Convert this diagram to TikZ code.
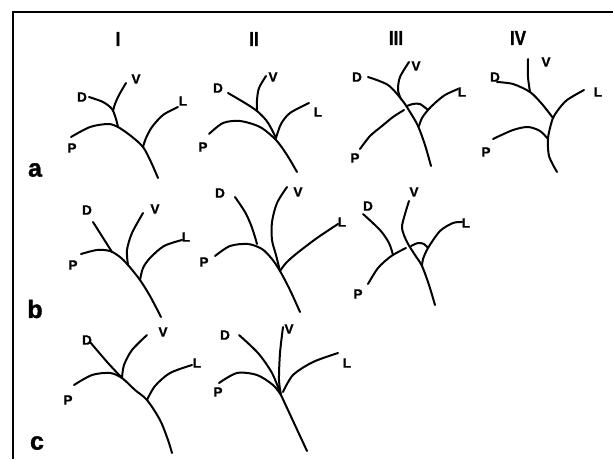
\documentclass[tikz,border=0pt]{standalone}
\usepackage{fontspec}
\newfontfamily\hv[BoldFeatures={FakeBold=1.3}]{Liberation Sans}
\begin{document}
\begin{tikzpicture}[x=1pt,y=-1pt,
  br/.style={line width=2pt, line cap=round, line join=round},
  frm/.style={line width=1.7pt},
  lab/.style={font=\hv\bfseries\fontsize{13.5}{13.5}\selectfont, inner sep=0pt},
  col/.style={font=\hv\bfseries\fontsize{20}{20}\selectfont, inner sep=0pt, xscale=0.85},
  row/.style={font=\hv\bfseries\fontsize{25}{25}\selectfont, inner sep=0pt}]
\useasboundingbox (0,0) rectangle (613,459);
% frame
\coordinate (ftl) at (13,12);
\coordinate (ftr) at (613,12);
\coordinate (fbl) at (13,459);
\draw[frm] (ftr) -- (ftl) -- (fbl);
% column and row labels
\node[col] (cI) at (118,39) {I};
\node[col] (cII) at (254,39) {II};
\node[col] (cIII) at (396,38) {III};
\node[col] (cIV) at (518,38) {IV};
\node[row] (ra) at (35,170) {a};
\node[row] (rb) at (35,309) {b};
\node[row] (rc) at (37,443) {c};

% ---------- Ia ----------
\node[lab] (IaD) at (82,97) {D};
\node[lab] (IaV) at (136,79) {V};
\node[lab] (IaL) at (183,101) {L};
\node[lab] (IaP) at (72,148) {P};
\draw[br] plot[smooth] coordinates {(71,137) (90,127) (108,124) (118,127) (131,136) (143,147) (151,162) (158,178)};
\draw[br] plot[smooth] coordinates {(89,97) (103,102) (112,109) (116,119) (118,127)};
\draw[br] plot[smooth] coordinates {(126,83) (119,95) (115,104) (113,111)};
\draw[br] plot[smooth] coordinates {(178,107) (163,115) (152,127) (146,138) (143,147)};

% ---------- IIa ----------
\node[lab] (IIaD) at (218,88) {D};
\node[lab] (IIaV) at (273,77) {V};
\node[lab] (IIaL) at (318,112) {L};
\node[lab] (IIaP) at (203,147) {P};
\draw[br] plot[smooth] coordinates {(209,134) (223,123) (240,121) (260,127) (276,140) (287,155) (297,172)};
\draw[br] plot[smooth] coordinates {(228,93) (245,103) (257,111) (266,120) (271,128) (276,138)};
\draw[br] plot[smooth] coordinates {(266,76) (259,88) (257,100) (257,111)};
\draw[br] plot[smooth] coordinates {(309,103) (290,113) (281,124) (276,138)};

% ---------- IIIa ----------
\node[lab] (IIIaD) at (357,77) {D};
\node[lab] (IIIaV) at (416,66) {V};
\node[lab] (IIIaL) at (462,92) {L};
\node[lab] (IIIaP) at (355,158) {P};
\draw[br] plot[smooth] coordinates {(368,77) (388,85) (402,100) (410,112) (418,126) (425,145) (431,166)};
\draw[br] plot[smooth] coordinates {(409,62) (400,77) (398,90) (401,99)};
\draw[br] plot[smooth] coordinates {(360,149) (370,136) (382,126) (393,117) (404,110)};
\draw[br] plot[smooth] coordinates {(407,106) (413,104) (420,104) (428,110)};
\draw[br] plot[smooth] coordinates {(458,89) (445,95) (435,103) (428,110) (422,118) (419,126)};

% ---------- IVa ----------
\node[lab] (IVaD) at (495,77) {D};
\node[lab] (IVaV) at (546,62) {V};
\node[lab] (IVaL) at (598,92) {L};
\node[lab] (IVaP) at (486,152) {P};
\draw[br] plot[smooth] coordinates {(497,82) (513,84) (530,92) (542,104) (553,118)};
\draw[br] plot[smooth] coordinates {(528,59) (528,77) (530,92)};
\draw[br] plot[smooth] coordinates {(584,90) (567,100) (558,110) (553,118) (550,128) (548,139) (549,156) (557,172)};
\draw[br] plot[smooth] coordinates {(493,139) (513,130) (528,127) (540,131) (548,139)};

% ---------- Ib ----------
\node[lab] (IbD) at (87,210) {D};
\node[lab] (IbV) at (155,209) {V};
\node[lab] (IbL) at (186,237) {L};
\node[lab] (IbP) at (73,265) {P};
\draw[br] (93,222) -- (112,252);
\draw[br] plot[smooth] coordinates {(81,254) (97,250) (110,251) (120,257) (128,265) (140,280) (150,296) (161,317)};
\draw[br] plot[smooth] coordinates {(143,213) (132,233) (127,250) (128,265)};
\draw[br] plot[smooth] coordinates {(182,240) (164,246) (150,258) (143,268) (140,280)};

% ---------- IIb ----------
\node[lab] (IIbD) at (220,193) {D};
\node[lab] (IIbV) at (298,192) {V};
\node[lab] (IIbL) at (342,222) {L};
\node[lab] (IIbP) at (204,262) {P};
\draw[br] plot[smooth] coordinates {(235,197) (245,212) (251,225) (255,237) (257,244)};
\draw[br] plot[smooth] coordinates {(215,256) (230,246) (248,244) (262,249) (272,259) (280,271) (290,290) (300,312)};
\draw[br] plot[smooth] coordinates {(287,187) (277,203) (272,222) (272,240) (276,255) (280,271)};
\draw[br] plot[smooth] coordinates {(338,224) (317,238) (296,254) (286,263) (280,271)};

% ---------- IIIb ----------
\node[lab] (IIIbD) at (368,206) {D};
\node[lab] (IIIbV) at (414,192) {V};
\node[lab] (IIIbL) at (466,223) {L};
\node[lab] (IIIbP) at (358,294) {P};
\draw[br] plot[smooth] coordinates {(363,214) (380,230) (389,243) (393,255)};
\draw[br] plot[smooth] coordinates {(368,284) (378,268) (390,257) (400,251) (406,248)};
\draw[br] plot[smooth] coordinates {(409,201) (405,214) (402,228) (407,242) (415,255) (422,266) (429,285) (435,305)};
\draw[br] plot[smooth] coordinates {(411,246) (418,243) (424,244) (428,248)};
\draw[br] plot[smooth] coordinates {(462,222) (453,223) (440,231) (428,248) (423,259) (422,266)};

% ---------- Ic ----------
\node[lab] (IcD) at (87,340) {D};
\node[lab] (IcV) at (163,332) {V};
\node[lab] (IcL) at (197,363) {L};
\node[lab] (IcP) at (68,400) {P};
\draw[br] plot[smooth] coordinates {(90,342) (108,363) (122,378)};
\draw[br] plot[smooth] coordinates {(147,335) (132,350) (124,365) (122,378)};
\draw[br] plot[smooth] coordinates {(74,385) (92,375) (110,373) (122,378) (135,390) (147,400) (160,420) (168,440) (172,453)};
\draw[br] plot[smooth] coordinates {(192,365) (170,373) (155,386) (147,400)};

% ---------- IIc ----------
\node[lab] (IIcD) at (225,335) {D};
\node[lab] (IIcV) at (289,329) {V};
\node[lab] (IIcL) at (347,363) {L};
\node[lab] (IIcP) at (218,392) {P};
\draw[br] plot[smooth] coordinates {(239,335) (258,353) (272,373) (281,395)};
\draw[br] plot[smooth] coordinates {(283,327) (280,353) (279,380) (281,395)};
\draw[br] plot[smooth] coordinates {(219,383) (237,373) (257,375) (273,385) (281,395)};
\draw[br] plot[smooth] coordinates {(338,353) (313,362) (293,375) (283,392)};
\draw[br] (281,395) -- (307,451);
\end{tikzpicture}
\end{document}
